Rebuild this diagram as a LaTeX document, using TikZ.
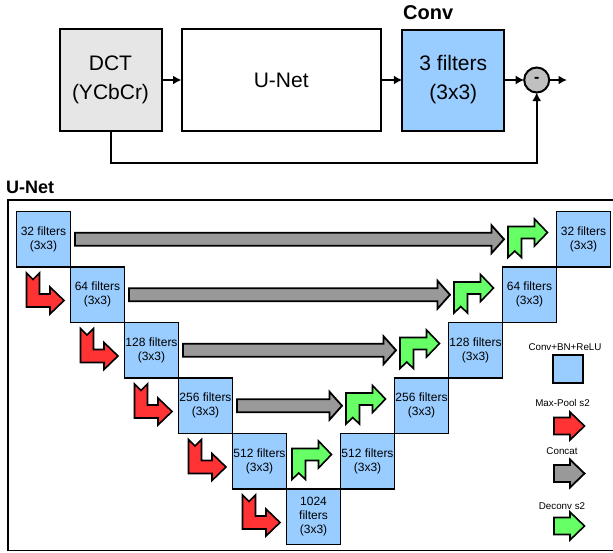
\documentclass[tikz,border=0pt]{standalone}
\usepackage{fontspec}
\setmainfont{Liberation Sans}
\usetikzlibrary{arrows.meta,calc}
\definecolor{convblue}{HTML}{99CCFF}
\definecolor{dctgray}{HTML}{E6E6E6}
\definecolor{subgray}{HTML}{C0C0C0}
\definecolor{poolred}{HTML}{FF3333}
\definecolor{catgray}{HTML}{999999}
\definecolor{upgreen}{HTML}{66FF66}

% plain right-pointing block arrow used in the legend
\newcommand\legendarrow[3]{%
  \draw[#1, shift={(#2,#3)}] (0,-8.5) -- (16,-8.5) -- (16,-14) -- (30.5,0)
    -- (16,14) -- (16,8.5) -- (0,8.5) -- cycle;}

\begin{document}
\begin{tikzpicture}[x=1pt,y=-1pt,
  bigbox/.style={draw, line width=2pt, minimum width=102pt, minimum height=101.5pt,
    inner sep=0pt, outer sep=0pt, align=center, font=\fontsize{21}{29}\selectfont},
  filterbox/.style={draw, line width=1.6pt, fill=convblue, minimum width=54pt,
    minimum height=55.5pt, inner sep=0pt, outer sep=0pt, align=center,
    font=\fontsize{12}{14}\selectfont},
  flow/.style={line width=2pt, -{Latex[length=8.5pt,width=9pt]}},
  pool/.style={draw, line width=1.6pt, fill=poolred, line join=miter},
  cat/.style={draw, line width=1.8pt, fill=catgray, line join=miter},
  up/.style={draw, line width=1.6pt, fill=upgreen, line join=miter},
  title/.style={inner sep=0pt, anchor=west},
  legendtxt/.style={font=\fontsize{9.8}{12}\selectfont, inner sep=0pt}
]
\useasboundingbox (0,0) rectangle (613,552);

% ---------- overall pipeline ----------
\node[bigbox, fill=dctgray] (dct) at (110.5,80) {DCT\\(YCbCr)};
\node[bigbox, minimum width=199.5pt] (unet) at (281.25,80) {U-Net};
\node[bigbox, fill=convblue, minimum height=101pt] (conv) at (453.3,80) {3 filters\\(3x3)};
\node[title, font=\fontsize{20}{20}\selectfont\bfseries] (convlbl) at (403,13) {Conv};
\node[circle, draw, line width=2pt, fill=subgray, minimum size=25pt, inner sep=0pt,
  outer sep=0pt, font=\fontsize{16}{16}\selectfont\bfseries] (sub) at (536.7,80) {-};
\coordinate (out) at (567,80);

\draw[flow] (dct.east) -- (unet.west);
\draw[flow] (unet.east) -- (conv.west);
\draw[flow] (conv.east) -- (sub.west);
\draw[flow] (sub.east) -- (out);
\draw[flow] (dct.south) -- ++(0,32.5) -| (sub.south);

% ---------- U-Net detail ----------
\node[title, font=\fontsize{18}{18}\selectfont\bfseries] (unetlbl) at (6,187) {U-Net};
% frame runs off the right-hand edge
\draw[line width=1.6pt] (614,200) -- (8,200) -- (8,550.5) -- (614,550.5);

% contracting path
\node[filterbox] (e0) at (43.5,239.25) {32 filters\\(3x3)};
\node[filterbox] (e1) at (97.5,294.75) {64 filters\\(3x3)};
\node[filterbox] (e2) at (151.5,350.25) {128 filters\\(3x3)};
\node[filterbox] (e3) at (205.5,405.75) {256 filters\\(3x3)};
\node[filterbox] (e4) at (259.5,461.25) {512 filters\\(3x3)};
\node[filterbox] (e5) at (313.5,516.75) {1024\\filters\\(3x3)};
% expanding path
\node[filterbox] (d4) at (367.5,461.25) {512 filters\\(3x3)};
\node[filterbox] (d3) at (421.5,405.75) {256 filters\\(3x3)};
\node[filterbox] (d2) at (475.5,350.25) {128 filters\\(3x3)};
\node[filterbox] (d1) at (529.5,294.75) {64 filters\\(3x3)};
\node[filterbox] (d0) at (583.5,239.25) {32 filters\\(3x3)};

% max-pool arrows (down, then right into the next block)
\foreach \b in {e1,e2,e3,e4,e5}
  \draw[pool, shift={(\b.north west)}] (-44,6) -- (-37.5,12.5) -- (-31,6) -- (-31,27)
    -- (-20.5,27) -- (-20.5,20) -- (-6.5,33.5) -- (-20.5,47) -- (-20.5,40) -- (-44,40) -- cycle;

% deconvolution arrows (up, then right into the next block)
\foreach \b in {d4,d3,d2,d1,d0}
  \draw[up, shift={(\b.north west)}] (-48.5,46) -- (-48.5,15) -- (-22,15) -- (-22,7.5)
    -- (-9,21) -- (-22,34.5) -- (-22,27) -- (-35,27) -- (-35,46) -- (-41.75,39.5) -- cycle;

% skip connections
\foreach \a/\b in {e0/d0,e1/d1,e2/d2,e3/d3}
  \draw[cat] let \p1=($(\a.east)+(4.5,0)$), \p2=($(\b.west)+(-52.5,0)$) in
    (\x1,\y1+6.5pt) -- (\x2-12.5pt,\y1+6.5pt) -- (\x2-12.5pt,\y1+14pt) -- (\x2,\y1)
    -- (\x2-12.5pt,\y1-14pt) -- (\x2-12.5pt,\y1-6.5pt) -- (\x1,\y1-6.5pt) -- cycle;

% legend
\node[legendtxt] (lg1) at (565,347) {Conv+BN+ReLU};
\node[draw, line width=1.6pt, fill=convblue, minimum width=30pt, minimum height=28pt,
  inner sep=0pt, outer sep=0pt] (lgbox) at (568,369) {};
\node[legendtxt] (lg2) at (562.5,402.5) {Max-Pool s2};
\legendarrow{pool}{554}{426}
\node[legendtxt] (lg3) at (562,451) {Concat};
\legendarrow{cat}{554}{473.5}
\node[legendtxt] (lg4) at (562,506) {Deconv s2};
\legendarrow{up}{554}{526}
\end{tikzpicture}
\end{document}
